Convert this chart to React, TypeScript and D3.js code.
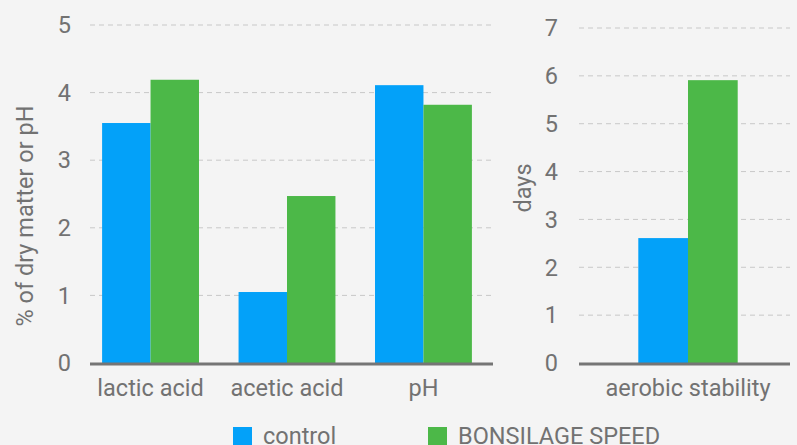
import React, { useEffect, useRef } from 'react';
import * as d3 from 'd3';

const leftCategories = ['lactic acid', 'acetic acid', 'pH'];
const rightCategories = ['aerobic stability'];
const seriesNames = ['control', 'BONSILAGE SPEED'];
const leftControl = [3.55, 1.05, 4.11];
const leftSpeed = [4.19, 2.47, 3.82];
const rightControl = [2.61];
const rightSpeed = [5.91];
const leftTicks = [0, 1, 2, 3, 4, 5];
const rightTicks = [0, 1, 2, 3, 4, 5, 6, 7];

const colors = ['#03a1f9', '#4cb848'];
const textColor = '#727272';
const font = 'Roboto, sans-serif';
const fs = '23.5px';

const W = 797;
const H = 445;

const App: React.FC = () => {
  const svgRef = useRef<SVGSVGElement>(null);

  useEffect(() => {
    if (!svgRef.current) return;
    const svg = d3.select(svgRef.current);
    svg.selectAll('*').remove();

    svg.append('rect').attr('width', W).attr('height', H).attr('fill', '#f4f4f4');

    const drawPanel = (
      cats: string[],
      a: number[],
      b: number[],
      ticks: number[],
      gridX: [number, number],
      bandX: [number, number],
      yTop: number,
      title: string,
      titleX: number,
      titleY: number,
      tickRight: number
    ) => {
      const y = d3.scaleLinear().domain([0, ticks[ticks.length - 1]]).range([363, yTop]);
      const x = d3.scaleBand().domain(cats).range(bandX).paddingInner(0.29).paddingOuter(0.14);
      const x1 = d3.scaleBand().domain(['0', '1']).range([0, x.bandwidth()]);

      const g = svg.append('g');

      // gridlines
      g.selectAll('line.grid')
        .data(ticks.filter(t => t > 0))
        .enter()
        .append('line')
        .attr('x1', gridX[0])
        .attr('x2', gridX[1])
        .attr('y1', d => y(d))
        .attr('y2', d => y(d))
        .style('stroke', '#c8c8c8')
        .style('stroke-width', 1)
        .style('stroke-dasharray', '5,4');

      // tick labels
      g.selectAll('text.tick')
        .data(ticks)
        .enter()
        .append('text')
        .attr('x', tickRight)
        .attr('y', d => y(d))
        .attr('dy', '0.35em')
        .style('text-anchor', 'end')
        .style('font-family', font)
        .style('font-size', fs)
        .style('fill', textColor)
        .text(d => d);

      // bars
      cats.forEach((c, i) => {
        [a[i], b[i]].forEach((v, s) => {
          g.append('rect')
            .attr('x', (x(c) as number) + (x1(String(s)) as number))
            .attr('y', y(v))
            .attr('width', x1.bandwidth())
            .attr('height', y(0) - y(v))
            .style('fill', colors[s]);
        });
        g.append('text')
          .attr('x', (x(c) as number) + x.bandwidth() / 2)
          .attr('y', 396)
          .style('text-anchor', 'middle')
          .style('font-family', font)
          .style('font-size', fs)
          .style('fill', textColor)
          .text(c);
      });

      // axis line
      g.append('line')
        .attr('x1', gridX[0])
        .attr('x2', gridX[1])
        .attr('y1', y(0) + 1)
        .attr('y2', y(0) + 1)
        .style('stroke', '#757575')
        .style('stroke-width', 3);

      // axis title
      g.append('text')
        .attr('transform', `translate(${titleX},${titleY}) rotate(-90)`)
        .attr('dy', '0.35em')
        .style('text-anchor', 'middle')
        .style('font-family', font)
        .style('font-size', fs)
        .style('fill', textColor)
        .text(title);
    };

    drawPanel(leftCategories, leftControl, leftSpeed, leftTicks, [90, 493], [83, 491], 25, '% of dry matter or pH', 25, 216, 71);
    drawPanel(rightCategories, rightControl, rightSpeed, rightTicks, [579, 790], [618, 758], 28, 'days', 523, 188, 558);

    // legend
    const legend = svg.append('g');
    const lx = [233, 428];
    seriesNames.forEach((n, i) => {
      legend.append('rect')
        .attr('x', lx[i])
        .attr('y', 427)
        .attr('width', 19)
        .attr('height', 19)
        .style('fill', colors[i]);
      legend.append('text')
        .attr('x', lx[i] + 30)
        .attr('y', 444)
        .style('font-family', font)
        .style('font-size', fs)
        .style('fill', textColor)
        .text(n);
    });
  }, []);

  return (
    <div style={{ position: 'absolute', left: 0, top: 0 }}>
      <svg ref={svgRef} width={W} height={H} style={{ display: 'block' }}></svg>
    </div>
  );
};

export default App;
